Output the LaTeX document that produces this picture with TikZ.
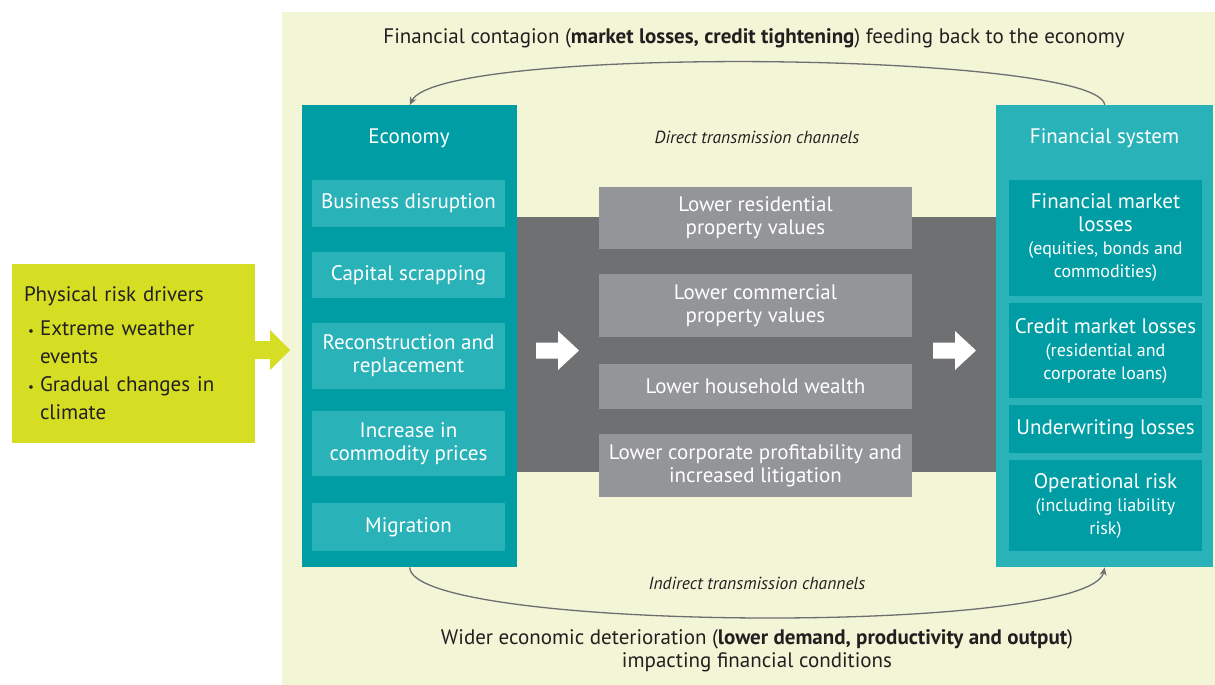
\documentclass[tikz,border=0pt]{standalone}
\usepackage{fontspec}
\setmainfont{PT Sans}
\usepackage{tikz}
\usetikzlibrary{arrows.meta,positioning}
\definecolor{paleyellow}{HTML}{F2F6D6}
\definecolor{limegreen}{HTML}{D5DE23}
\definecolor{tealdark}{HTML}{009EA4}
\definecolor{teallight}{HTML}{2AB2B9}
\definecolor{bandgray}{HTML}{6E7072}
\definecolor{boxgray}{HTML}{939598}
\definecolor{arcgray}{HTML}{6D6E70}
\definecolor{textdark}{HTML}{231F20}
\newcommand{\subfont}{\fontsize{18}{21}\selectfont}

\begin{document}
\begin{tikzpicture}[
  x=1pt, y=-1pt,
  every node/.style={font=\fontsize{21}{23}\selectfont, text=textdark, align=center, inner sep=0pt},
  panel/.style={rectangle, anchor=north west, minimum height=462pt},
  panel_title/.style={text=white},
  econ_item/.style={rectangle, fill=teallight, text=white, minimum width=193pt},
  fin_item/.style={rectangle, fill=tealdark, text=white, minimum width=193pt},
  channel/.style={rectangle, fill=boxgray, text=white, minimum width=313pt},
  channel_label/.style={font=\fontsize{17.5}{20}\selectfont\itshape},
  arc/.style={-{Stealth[length=8pt,width=7pt]}, draw=arcgray, line width=1.3pt}
]
\useasboundingbox (0,0) rectangle (1215,685);

% Background
\fill[paleyellow] (282,12) rectangle (1215,685);

% Physical risk drivers
\node[rectangle, fill=limegreen, minimum width=243pt, minimum height=179pt, text width=219pt, align=left,
      font=\fontsize{21}{28}\selectfont] (drivers) at (133.5,353.5)
  {Physical risk drivers\\[6pt]
   \hspace*{4pt}\makebox[12pt][l]{\fontsize{13}{13}\selectfont\textbullet}Extreme weather\\
   \hspace*{16pt}events\\
   \hspace*{4pt}\makebox[12pt][l]{\fontsize{13}{13}\selectfont\textbullet}Gradual changes in\\
   \hspace*{16pt}climate};
\fill[limegreen] (drivers.east |- 0,341) -- (270,341) -- (270,330) -- (290,350) -- (270,370) -- (270,359) -- (drivers.east |- 0,359) -- cycle;

% Transmission band
\fill[bandgray] (516,217) rectangle (997,472);

% Economy
\node[panel, fill=tealdark, minimum width=215pt] (econ) at (302,105) {};
\node[panel_title] (econ_title) at (409,138) {Economy};
\node[econ_item, minimum height=47pt] (bizdis) at (408.5,203.5) {Business disruption};
\node[econ_item, minimum height=46pt] (capscrap) at (408.5,275) {Capital scrapping};
\node[econ_item, minimum height=66pt] (reconstr) at (408.5,356) {Reconstruction and\\replacement};
\node[econ_item, minimum height=65pt] (commod) at (408.5,443.5) {Increase in\\commodity prices};
\node[econ_item, minimum height=48pt] (migr) at (408.5,527) {Migration};

% Financial system
\node[panel, fill=teallight, minimum width=217pt] (fin) at (996,105) {};
\node[panel_title] (fin_title) at (1104.5,138) {Financial system};
\node[fin_item, minimum height=116pt] (finmkt) at (1105.5,238)
  {Financial market\\losses\\\subfont(equities, bonds and\\\subfont commodities)};
\node[fin_item, minimum height=95pt] (credmkt) at (1105.5,350.5)
  {Credit market losses\\\subfont(residential and\\\subfont corporate loans)};
\node[fin_item, minimum height=48pt] (underwr) at (1105.5,429) {Underwriting losses};
\node[fin_item, minimum height=91pt] (oprisk) at (1105.5,505.5)
  {Operational risk\\\subfont(including liability\\\subfont risk)};

% Direct transmission channels
\node[channel_label] (direct) at (757,137) {Direct transmission channels};
\node[channel, minimum height=62pt] (resid) at (755.5,218) {Lower residential\\property values};
\node[channel, minimum height=63pt] (commerc) at (755.5,305.5) {Lower commercial\\property values};
\node[channel, minimum height=45pt] (wealth) at (755.5,386.5) {Lower household wealth};
\node[channel, minimum height=63pt] (profit) at (755.5,465.5) {Lower corporate profitability and\\increased litigation};
\fill[white] (536,342.5) -- (558,342.5) -- (558,331) -- (579,350.5) -- (558,370) -- (558,358.5) -- (536,358.5) -- cycle;
\fill[white] (933,342.5) -- (955,342.5) -- (955,331) -- (976,350.5) -- (955,370) -- (955,358.5) -- (933,358.5) -- cycle;

% Feedback loops
\node (contagion) at (754,38) {Financial contagion (\textbf{market losses, credit tightening}) feeding back to the economy};
\draw[arc] (fin.north) .. controls (1100,52) and (440,44) .. (econ.north);
\node[channel_label] (indirect) at (757,583) {Indirect transmission channels};
\draw[arc] (econ.south) .. controls (412,632) and (1090,636) .. (fin.south);
\node (deterior) at (757,651) {Wider economic deterioration (\textbf{lower demand, productivity and output})\\impacting financial conditions};

\end{tikzpicture}
\end{document}
